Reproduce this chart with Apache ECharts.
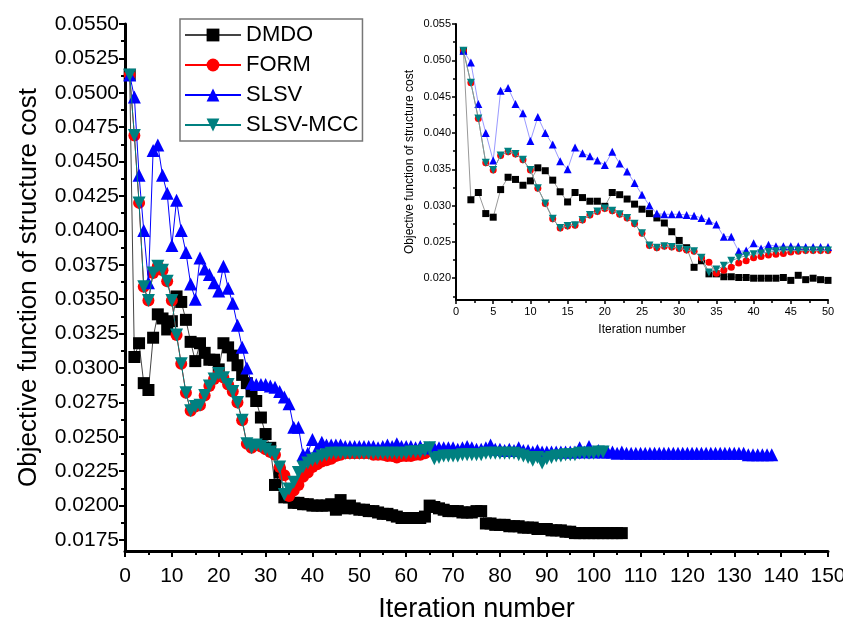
<!DOCTYPE html>
<html><head><meta charset="utf-8">
<script src="https://cdn.jsdelivr.net/npm/echarts@6/dist/echarts.min.js"></script>
<style>html,body{margin:0;padding:0;background:#fff}#c{width:843px;height:621px}</style>
</head><body><div id="c"></div>
<script>
// Values per iteration (iteration number = index + 1)
const DMDO = [0.0513,0.0308,0.0318,0.0289,0.0284,0.0322,0.0339,0.0336,0.0328,0.0334,
0.0352,0.0348,0.0335,0.0319,0.0305,0.0318,0.0311,0.0306,0.0306,0.0299,
0.0318,0.0315,0.0309,0.0302,0.0295,0.0289,0.0283,0.0276,0.0264,0.0252,
0.0242,0.0215,0.0224,0.0206,0.0206,0.0202,0.0202,0.0201,0.0201,0.0200,
0.0200,0.0200,0.0200,0.0201,0.0197,0.0204,0.0198,0.0200,0.0198,0.0197,
0.0197,0.0196,0.0196,0.0195,0.0194,0.0194,0.0193,0.0192,0.0191,0.0191,
0.0191,0.0191,0.0191,0.0192,0.0200,0.0199,0.0198,0.0197,0.0196,0.0196,
0.0196,0.0195,0.0195,0.0195,0.0196,0.0196,0.0187,0.0187,0.0186,0.0186,
0.0186,0.0185,0.0185,0.0185,0.0184,0.0184,0.0184,0.0183,0.0183,0.0183,
0.0182,0.0182,0.0182,0.0181,0.0181,0.0180,0.0180,0.0180,0.0180,0.0180,
0.0180,0.0180,0.0180,0.0180,0.0180,0.0180];
const FORM = [0.0513,0.0469,0.0420,0.0359,0.0349,0.0369,0.0374,0.0371,0.0363,0.0349,
0.0324,0.0303,0.0282,0.0269,0.0272,0.0273,0.0280,0.0287,0.0292,0.0296,
0.0293,0.0288,0.0283,0.0275,0.0262,0.0245,0.0242,0.0244,0.0243,0.0241,
0.0239,0.0237,0.0228,0.0222,0.0207,0.0211,0.0215,0.0221,0.0224,0.0228,
0.0230,0.0232,0.0233,0.0234,0.0236,0.0237,0.0238,0.0238,0.0238,0.0238,
0.0238,0.0238,0.0237,0.0237,0.0237,0.0236,0.0236,0.0235,0.0236,0.0236,
0.0236,0.0237,0.0237,0.0238,0.0240];
const SLSV = [0.0513,0.0497,0.0440,0.0400,0.0362,0.0458,0.0462,0.0440,0.0427,0.0389,
0.0422,0.0400,0.0384,0.0361,0.0350,0.0380,0.0372,0.0368,0.0362,0.0356,
0.0374,0.0358,0.0347,0.0331,0.0315,0.0300,0.0289,0.0288,0.0288,0.0288,
0.0287,0.0286,0.0283,0.0279,0.0274,0.0257,0.0257,0.0237,0.0238,0.0248,
0.0241,0.0246,0.0244,0.0244,0.0244,0.0244,0.0243,0.0243,0.0243,0.0243,
0.0243,0.0243,0.0243,0.0242,0.0243,0.0244,0.0243,0.0245,0.0243,0.0243,
0.0243,0.0242,0.0243,0.0242,0.0242,0.0242,0.0242,0.0242,0.0242,0.0242,
0.0241,0.0242,0.0243,0.0242,0.0241,0.0241,0.0242,0.0244,0.0241,0.0241,
0.0240,0.0241,0.0240,0.0242,0.0240,0.0240,0.0239,0.0240,0.0239,0.0239,
0.0239,0.0239,0.0239,0.0239,0.0239,0.0239,0.0242,0.0239,0.0243,0.0239,
0.0240,0.0239,0.0239,0.0239,0.0238,0.0239,0.0238,0.0238,0.0238,0.0238,
0.0238,0.0238,0.0238,0.0238,0.0238,0.0238,0.0238,0.0238,0.0238,0.0238,
0.0238,0.0238,0.0238,0.0238,0.0238,0.0238,0.0238,0.0238,0.0238,0.0238,
0.0238,0.0238,0.0237,0.0237,0.0237,0.0237,0.0237,0.0237];
const SLSV_MCC = [0.0513,0.0469,0.0420,0.0359,0.0349,0.0369,0.0374,0.0371,0.0363,0.0349,
0.0324,0.0303,0.0282,0.0269,0.0272,0.0273,0.0280,0.0287,0.0292,0.0296,
0.0293,0.0288,0.0283,0.0275,0.0262,0.0245,0.0242,0.0244,0.0243,0.0241,
0.0239,0.0237,0.0228,0.0208,0.0212,0.0217,0.0224,0.0228,0.0231,0.0233,
0.0234,0.0236,0.0237,0.0238,0.0238,0.0238,0.0238,0.0238,0.0238,0.0238,
0.0238,0.0238,0.0238,0.0238,0.0238,0.0238,0.0238,0.0238,0.0238,0.0238,
0.0239,0.0239,0.0239,0.0240,0.0242,0.0234,0.0235,0.0236,0.0236,0.0236,
0.0236,0.0237,0.0237,0.0237,0.0237,0.0237,0.0238,0.0238,0.0238,0.0238,
0.0238,0.0238,0.0238,0.0237,0.0236,0.0235,0.0233,0.0235,0.0231,0.0234,
0.0235,0.0236,0.0236,0.0237,0.0237,0.0237,0.0238,0.0238,0.0238,0.0238,
0.0239,0.0239];
const mainYTicks = ['0.0175','0.0200','0.0225','0.0250','0.0275','0.0300','0.0325','0.0350','0.0375','0.0400','0.0425','0.0450','0.0475','0.0500','0.0525','0.0550'];
const insetYTicks = ['0.020','0.025','0.030','0.035','0.040','0.045','0.050','0.055'];
const INSET_N = 50;

const FONT = 'Liberation Sans, Arial, sans-serif';
const pts = (arr, n) => arr.slice(0, n || arr.length).map((v, i) => [i + 1, v]);
const mainMajor = mainYTicks.map(Number);
const mainMinor = mainMajor.slice(1).map((v, i) => +((v + mainMajor[i]) / 2).toFixed(5));
const insetMajor = insetYTicks.map(Number);
const insetMinor = [0.0175].concat(insetMajor.slice(1).map((v, i) => +((v + insetMajor[i]) / 2).toFixed(5)));

const styles = {
  DMDO: {color: '#000000', line: '#444444', iline: '#999999', symbol: 'rect', size: 12, isize: 7, rot: 0},
  FORM: {color: '#ff0000', line: '#ff0000', iline: '#d08080', symbol: 'circle', size: 12, isize: 7, rot: 0},
  SLSV: {color: '#0000ff', line: '#0000ff', iline: '#9999ff', symbol: 'triangle', size: 13, isize: 8, rot: 0},
  'SLSV-MCC': {color: '#008080', line: '#008080', iline: '#70a0a0', symbol: 'triangle', size: 13, isize: 8, rot: 180}
};
const dataMap = {DMDO: DMDO, FORM: FORM, SLSV: SLSV, 'SLSV-MCC': SLSV_MCC};
const names = ['DMDO', 'FORM', 'SLSV', 'SLSV-MCC'];

const series = [];
names.forEach((n, k) => {
  const s = styles[n];
  series.push({
    name: n, type: 'line', xAxisIndex: 0, yAxisIndex: 0, data: pts(dataMap[n]),
    symbol: s.symbol, symbolSize: s.size, symbolRotate: s.rot, showAllSymbol: true,
    lineStyle: {color: s.line, width: 1}, itemStyle: {color: s.color}, z: 2 + k, animation: false
  });
});
names.forEach((n, k) => {
  const s = styles[n];
  series.push({
    name: n, type: 'line', xAxisIndex: 1, yAxisIndex: 2, data: pts(dataMap[n], INSET_N),
    symbol: s.symbol, symbolSize: s.isize, symbolRotate: s.rot, showAllSymbol: true,
    lineStyle: {color: s.iline, width: 1}, itemStyle: {color: s.color}, z: 10 + k, animation: false
  });
});

const chart = echarts.init(document.getElementById('c'), null, {renderer: 'canvas'});
chart.setOption({
  backgroundColor: '#fff',
  animation: false,
  textStyle: {fontFamily: FONT},
  grid: [
    {left: 125, top: 24, width: 703, height: 527, containLabel: false, outerBoundsMode: 'none'},
    {left: 456, top: 24, width: 372, height: 276, containLabel: false, outerBoundsMode: 'none'}
  ],
  legend: {
    data: names, orient: 'vertical', left: 180, top: 19,
    backgroundColor: '#fff', borderColor: '#777', borderWidth: 1.5, borderRadius: 0,
    padding: [5, 4, 5, 4], itemWidth: 56, itemHeight: 16, itemGap: 8,
    textStyle: {fontSize: 22, color: '#000', fontFamily: FONT},
    selectedMode: false, z: 20
  },
  xAxis: [
    {gridIndex: 0, type: 'value', min: 0, max: 150, interval: 10,
     name: 'Iteration number', nameLocation: 'middle', nameGap: 45,
     nameTextStyle: {fontSize: 27, color: '#000'},
     axisLine: {lineStyle: {color: '#000', width: 3}},
     axisTick: {length: 6, lineStyle: {width: 2, color: '#000'}},
     minorTick: {show: true, splitNumber: 2, length: 4, lineStyle: {width: 2, color: '#000'}},
     axisLabel: {fontSize: 21, color: '#000', margin: 15},
     splitLine: {show: false}},
    {gridIndex: 1, type: 'value', min: 0, max: 50, interval: 5,
     name: 'Iteration number', nameLocation: 'middle', nameGap: 24,
     nameTextStyle: {fontSize: 12, color: '#000'},
     axisLine: {lineStyle: {color: '#000', width: 2}},
     axisTick: {length: 4, lineStyle: {width: 1.5, color: '#000'}},
     minorTick: {show: true, splitNumber: 2, length: 3, lineStyle: {width: 1.5, color: '#000'}},
     axisLabel: {fontSize: 11, color: '#000', margin: 6},
     splitLine: {show: false}}
  ],
  yAxis: [
    {gridIndex: 0, type: 'value', position: 'left', min: 0.0167, max: 0.055,
     name: 'Objective function of structure cost', nameLocation: 'middle', nameGap: 83,
     nameTextStyle: {fontSize: 26, color: '#000'},
     axisLine: {show: true, lineStyle: {color: '#000', width: 3}},
     axisTick: {show: true, length: 6, customValues: mainMajor, lineStyle: {width: 2, color: '#000'}},
     axisLabel: {fontSize: 21, color: '#000', margin: 6, customValues: mainMajor, formatter: v => v.toFixed(4)},
     splitLine: {show: false}},
    {gridIndex: 0, type: 'value', position: 'left', offset: 0, min: 0.0167, max: 0.055,
     axisLine: {show: false},
     axisTick: {show: true, length: 4, customValues: mainMinor, lineStyle: {width: 2, color: '#000'}},
     axisLabel: {show: false},
     splitLine: {show: false}},
    {gridIndex: 1, type: 'value', position: 'left', min: 0.017, max: 0.055,
     name: 'Objective function of structure cost', nameLocation: 'middle', nameGap: 40,
     nameTextStyle: {fontSize: 12, color: '#000'},
     axisLine: {show: true, lineStyle: {color: '#000', width: 2}},
     axisTick: {show: true, length: 4, customValues: insetMajor, lineStyle: {width: 1.5, color: '#000'}},
     axisLabel: {fontSize: 11, color: '#000', margin: 5, customValues: insetMajor, formatter: v => v.toFixed(3)},
     splitLine: {show: false}},
    {gridIndex: 1, type: 'value', position: 'left', offset: 0, min: 0.017, max: 0.055,
     axisLine: {show: false},
     axisTick: {show: true, length: 3, customValues: insetMinor, lineStyle: {width: 1.5, color: '#000'}},
     axisLabel: {show: false},
     splitLine: {show: false}}
  ],
  series: series
});
</script></body></html>
